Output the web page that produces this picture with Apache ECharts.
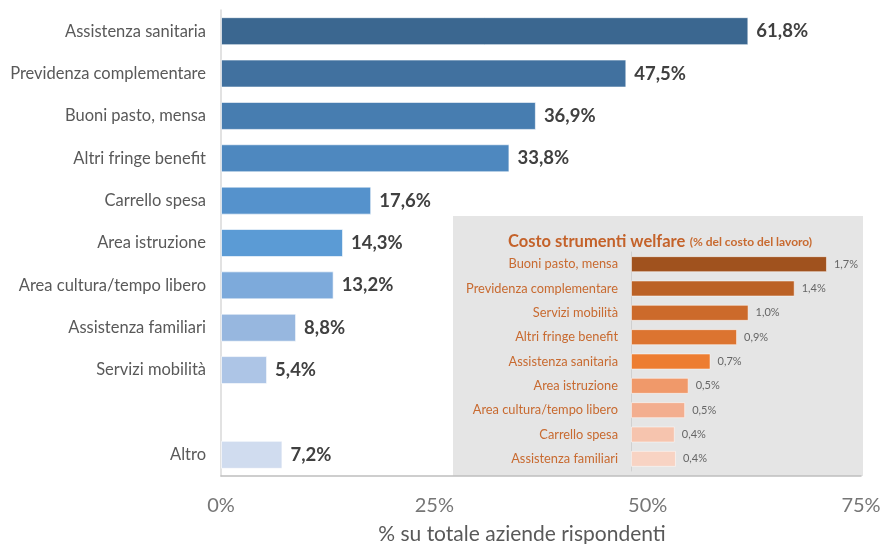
<!DOCTYPE html>
<html>
<head>
<meta charset="utf-8">
<script src="https://cdn.jsdelivr.net/npm/echarts@6/dist/echarts.min.js"></script>
<style>
html,body{margin:0;padding:0;background:#fff;}
#chart{width:883px;height:544px;}
</style>
</head>
<body>
<div id="chart"></div>
<script>
// Main chart data
const mainCategories = ["Assistenza sanitaria","Previdenza complementare","Buoni pasto, mensa","Altri fringe benefit","Carrello spesa","Area istruzione","Area cultura/tempo libero","Assistenza familiari","Servizi mobilità","","Altro"];
const mainValues = [61.8, 47.5, 36.9, 33.8, 17.6, 14.3, 13.2, 8.8, 5.4, null, 7.2];
const mainTicks = ["0%","25%","50%","75%"];
const mainColors = ["#3B6790","#41719F","#477DB0","#4E88BF","#5592CC","#5B9BD5","#7DAADB","#97B7DF","#ADC5E6","#ffffff","#D0DCEF"];

// Inset data
const insetCategories = ["Buoni pasto, mensa","Previdenza complementare","Servizi mobilità","Altri fringe benefit","Assistenza sanitaria","Area istruzione","Area cultura/tempo libero","Carrello spesa","Assistenza familiari"];
const insetValues = [1.7, 1.42, 1.02, 0.92, 0.69, 0.5, 0.47, 0.38, 0.39];
const insetColors = ["#A0521E","#BB6125","#CC6A2B","#DC7430","#ED7D31","#F0996A","#F3AE8F","#F6C4AE","#F8D3C3"];

const FONT = "Lato";
const fmt = v => v.toFixed(1).replace('.', ',') + '%';

const chart = echarts.init(document.getElementById('chart'), null, {renderer:'canvas'});
chart.setOption({
  animation:false,
  backgroundColor:'#ffffff',
  textStyle:{fontFamily:FONT},
  title:{
    left:503, top:228,
    text:'{a|Costo strumenti welfare} {b|(% del costo del lavoro)}',
    textStyle:{
      rich:{
        a:{fontFamily:FONT,fontSize:16.5,fontWeight:'bold',color:'#C4622A'},
        b:{fontFamily:FONT,fontSize:12,color:'#C86A30'}
      }
    }
  },
  graphic:[{
    type:'rect', z:-1, zlevel:0,
    shape:{x:453,y:216,width:410,height:260},
    style:{fill:'#E5E5E5'}
  }],
  grid:[
    {left:221, right:22, top:10, bottom:68, containLabel:false, outerBoundsMode:'none'},
    {left:631, width:207.5, top:252, height:219, containLabel:false, outerBoundsMode:'none'}
  ],
  xAxis:[
    {
      gridIndex:0, type:'value', min:0, max:75, interval:25,
      axisLine:{show:true,lineStyle:{color:'#BFBFBF',width:1.5}},
      axisTick:{show:false}, splitLine:{show:false},
      axisLabel:{fontSize:20,color:'#767676',margin:20,formatter:(v)=>mainTicks[Math.round(v/25)]},
      name:'% su totale aziende rispondenti', nameLocation:'middle', nameGap:48,
      nameTextStyle:{fontSize:21,color:'#595959',fontFamily:FONT,padding:[0,38,0,0]}
    },
    {
      gridIndex:1, type:'value', min:0, max:1.8,
      axisLine:{show:false}, axisTick:{show:false}, splitLine:{show:false}, axisLabel:{show:false}
    }
  ],
  yAxis:[
    {
      gridIndex:0, type:'category', data:mainCategories, inverse:true,
      axisLine:{show:true,lineStyle:{color:'#D9D9D9',width:1.5}},
      axisTick:{show:false},
      axisLabel:{fontSize:16.5,color:'#595959',margin:15}
    },
    {
      gridIndex:1, type:'category', data:insetCategories, inverse:true,
      axisLine:{show:true,lineStyle:{color:'#D0D0D0',width:1}},
      axisTick:{show:false},
      axisLabel:{fontSize:12.8,color:'#C86A30',margin:13}
    }
  ],
  series:[
    {
      type:'bar', xAxisIndex:0, yAxisIndex:0, barWidth:28,
      data: mainValues.map((v,i)=>({value:v,itemStyle:{color:mainColors[i],borderColor:'rgba(255,255,255,0.6)',borderWidth:1}})),
      label:{show:true,position:'right',distance:8,fontSize:18.5,fontWeight:'bold',color:'#404040',fontFamily:FONT,
        formatter:p=>p.value==null?'':fmt(p.value)}
    },
    {
      type:'bar', xAxisIndex:1, yAxisIndex:1, barWidth:16, z:5,
      data: insetValues.map((v,i)=>({value:v,itemStyle:{color:insetColors[i],borderColor:'rgba(255,255,255,0.5)',borderWidth:1}})),
      label:{show:true,position:'right',distance:7,fontSize:11,color:'#666666',fontFamily:FONT,
        formatter:p=>fmt(p.value)}
    }
  ]
});
</script>
</body>
</html>
